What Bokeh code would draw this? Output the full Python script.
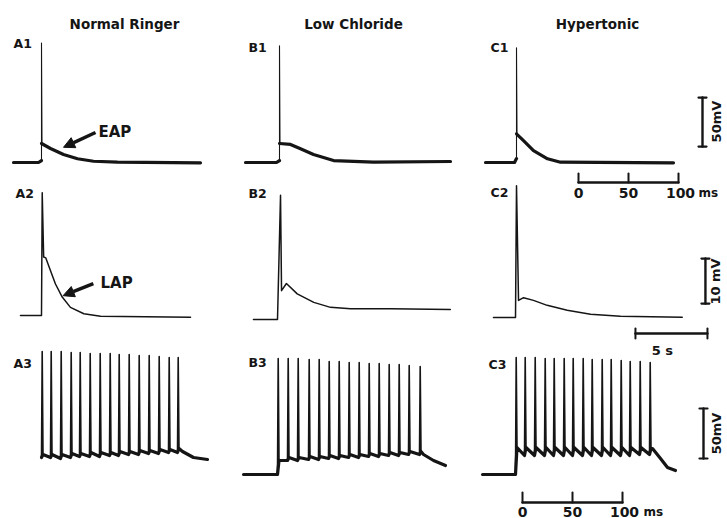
import math
from bokeh.plotting import figure
from bokeh.models import Range1d, Label, Arrow, NormalHead
from bokeh.embed import file_html
from bokeh.resources import INLINE

W, H = 727, 518
INK = "#151515"
FONT = "DejaVu Sans"

# ---------------- text ----------------
COLUMN_TITLES = ["Normal Ringer", "Low Chloride", "Hypertonic"]
PANEL_NAMES = ["A1", "B1", "C1", "A2", "B2", "C2", "A3", "B3", "C3"]

# ---------------- row 1: single stimulus, fast sweep (ms, mV above rest) ----------------
A1_pre_t = [-28, -3, 0]
A1_pre_v = [0, 0, 2]
A1_peak = 122
A1_decay_t = [0, 9, 22, 36, 52, 76, 159]
A1_decay_v = [19.4, 14.3, 8.2, 3.8, 1.3, 0.3, -0.3]

B1_pre_t = [-34, -3, 0]
B1_pre_v = [0, 0, 2]
B1_peak = 119
B1_decay_t = [0, 11, 21, 34, 54, 94, 171]
B1_decay_v = [19.4, 18.4, 14.0, 8.2, 2.0, 0.3, 1.0]

C1_pre_t = [-31, -2, 0]
C1_pre_v = [0, 0, 4]
C1_peak = 117
C1_decay_t = [0, 7, 17, 31, 44, 157]
C1_decay_v = [29.3, 22.4, 12.2, 3.8, 0.3, -0.3]

# ---------------- row 2: single stimulus, slow sweep (s, mV above rest) ----------------
A2_t = [-1.46, 0, 0.05, 0.15, 0.30, 0.62, 0.97, 1.44, 2.01, 2.94, 4.10, 10.35]
A2_v = [0, 0, 27.3, 13.0, 12.8, 10.0, 7.0, 4.1, 1.8, 0.4, -0.15, -0.4]
B2_t = [-1.67, 0, 0.21, 0.28, 0.62, 1.37, 2.52, 3.68, 5.07, 7.85, 12.0]
B2_v = [0, 0, 27.6, 6.4, 8.0, 5.7, 3.8, 2.7, 2.4, 2.4, 2.2]
C2_t = [-1.53, 0, 0.07, 0.21, 0.56, 1.25, 2.20, 3.59, 5.21, 7.29, 11.58]
C2_v = [0, 0, 29.3, 3.8, 4.4, 3.8, 2.7, 1.6, 0.7, 0.3, 0.07]

# ---------------- row 3: spike trains (ms, mV above rest) ----------------
A3_spike_t = [0, 9, 19, 29, 38, 48, 58, 68, 77, 87, 97, 107, 117, 127, 136]
A3_peak = [123, 123, 123, 122, 122, 121, 121, 121, 120, 120, 119, 119, 118, 117, 117]
A3_base = [17, 17, 16, 17, 18, 18, 18, 19, 19, 20, 20, 21, 21, 22, 22]
A3_after = [20, 20, 20, 21, 21, 22, 22, 22, 23, 23, 24, 24, 25, 25, 26]
A3_pre_t = []
A3_pre_v = []
A3_tail_t = [141, 152, 166]
A3_tail_v = [23, 17, 15]

B3_spike_t = [0, 10, 20, 31, 41, 51, 61, 71, 81, 91, 101, 111, 121, 131, 142]
B3_peak = [116, 116, 116, 115, 115, 113, 113, 112, 112, 111, 111, 110, 110, 109, 108]
B3_base = [0, 14, 14, 15, 15, 16, 16, 17, 17, 18, 18, 19, 19, 20, 20]
B3_after = [14, 17, 17, 18, 18, 19, 19, 20, 20, 21, 21, 22, 22, 23, 23]
B3_pre_t = [-34, -1]
B3_pre_v = [0, 0]
B3_tail_t = [146, 156, 168]
B3_tail_v = [20, 14, 9]

C3_spike_t = [0, 9, 19, 29, 38, 48, 57, 67, 76, 86, 95, 105, 114, 124, 134]
C3_peak = [117, 117, 117, 116, 116, 116, 116, 116, 115, 115, 115, 114, 113, 113, 112]
C3_base = [0, 19, 19, 19, 19, 19, 19, 19, 19, 19, 19, 19, 19, 20, 20]
C3_after = [27, 27, 27, 27, 27, 27, 27, 27, 27, 27, 27, 27, 27, 27, 26]
C3_pre_t = [-33, -1]
C3_pre_v = [0, 0]
C3_tail_t = [137, 145, 152, 160]
C3_tail_v = [26, 16, 7, 4]

# ---------------- scale bars ----------------
BAR_FAST_MS = [0, 50, 100]
BAR_FAST_LABELS = ["0", "50", "100"]
BAR_MV_BIG = 50
BAR_MV_SMALL = 10
BAR_SLOW_S = 5

# ---------------- layout (pixel position of t=0/rest, px per unit) ----------------
GEOM = {
    "A1": (41, 162, 1.0, 0.98), "B1": (279, 162, 1.0, 0.98), "C1": (516, 162, 1.0, 0.98),
    "A2": (41, 315, 14.4, 4.5), "B2": (277, 319, 14.4, 4.5), "C2": (515, 317, 14.4, 4.5),
    "A3": (41, 474, 1.0, 1.0), "B3": (277, 474, 1.0, 1.0), "C3": (515, 474, 1.0, 1.0),
}

p = figure(width=W, height=H, x_range=Range1d(0, W), y_range=Range1d(0, H),
           x_axis_type=None, y_axis_type=None, toolbar_location=None,
           output_backend="svg", min_border=0, outline_line_color=None,
           background_fill_color="white", border_fill_color="white")

xr, yr = {}, {}
for k, (x0, y0, sx, sy) in GEOM.items():
    xr[k] = Range1d(-x0 / sx, (W - x0) / sx)
    yr[k] = Range1d(-(H - y0) / sy, y0 / sy)
p.extra_x_ranges = xr
p.extra_y_ranges = yr


def line(k, xs, ys, w):
    if len(xs) == 0:
        return
    p.line(list(xs), list(ys), x_range_name=k, y_range_name=k, line_color=INK,
           line_width=w, line_join="round", line_cap="round")


def text(k, x, y, s, size, align="center", angle=0.0, bold=True, baseline="middle"):
    if k is None:
        kw = dict(x_units="screen", y_units="screen")
        y = H - y
    else:
        kw = dict(x_range_name=k, y_range_name=k)
    p.add_layout(Label(x=x, y=y, text=s, text_font=FONT, text_font_size=f"{size}px",
                       text_font_style="bold" if bold else "normal", text_color=INK,
                       text_align=align, text_baseline=baseline, angle=angle, **kw))


# ---- row 1 ----
for k, pt, pv, pk, dt, dv in [("A1", A1_pre_t, A1_pre_v, A1_peak, A1_decay_t, A1_decay_v),
                              ("B1", B1_pre_t, B1_pre_v, B1_peak, B1_decay_t, B1_decay_v),
                              ("C1", C1_pre_t, C1_pre_v, C1_peak, C1_decay_t, C1_decay_v)]:
    line(k, pt, pv, 3.2)
    line(k, [0, 0, 0.5], [pv[-1], pk, dv[0]], 1.1)
    line(k, dt, dv, 3.2)

# ---- row 2 ----
for k, t, v in [("A2", A2_t, A2_v), ("B2", B2_t, B2_v), ("C2", C2_t, C2_v)]:
    line(k, t, v, 1.5)

# ---- row 3 ----
for k, st, pk, bs, af, pt, pv, tt, tv in [
        ("A3", A3_spike_t, A3_peak, A3_base, A3_after, A3_pre_t, A3_pre_v, A3_tail_t, A3_tail_v),
        ("B3", B3_spike_t, B3_peak, B3_base, B3_after, B3_pre_t, B3_pre_v, B3_tail_t, B3_tail_v),
        ("C3", C3_spike_t, C3_peak, C3_base, C3_after, C3_pre_t, C3_pre_v, C3_tail_t, C3_tail_v)]:
    line(k, pt, pv, 3.0)
    xs, ys, bx, by = [], [], [], []
    for t, a, b, c in zip(st, pk, bs, af):
        xs += [t, t + 0.7, t + 1.5]
        ys += [b, a, c]
        bx += [t, t + 1.5]
        by += [b, c]
    xs += tt; ys += tv
    bx += tt; by += tv
    line(k, xs, ys, 1.6)
    line(k, bx, by, 3.2)


# ---- scale bars ----
def vbar(k, t, v0, length, cap_px=4):
    x0, y0, sx, sy = GEOM[k]
    c = cap_px / sx
    line(k, [t, t], [v0, v0 + length], 2.4)
    line(k, [t - c, t + c], [v0, v0], 2.2)
    line(k, [t - c, t + c], [v0 + length, v0 + length], 2.2)


def hbar(k, t0, ticks, v, tick_px, labels=None, label_v=None, unit=None, unit_t=None, down=False):
    x0, y0, sx, sy = GEOM[k]
    line(k, [t0 + ticks[0], t0 + ticks[-1]], [v, v], 2.4)
    d = tick_px / sy
    for tk in ticks:
        if down:
            line(k, [t0 + tk, t0 + tk], [v - d, v + d], 2.0)
        else:
            line(k, [t0 + tk, t0 + tk], [v, v + d], 2.0)
    if labels:
        for tk, lb in zip(ticks, labels):
            text(k, t0 + tk + (2 if lb == "100" else 0), label_v, lb, 14)
    if unit:
        text(k, unit_t, label_v, unit, 12, align="left", bold=True)


vbar("C1", 186, 16.3, BAR_MV_BIG)
text("C1", 200, 41.8, f"{BAR_MV_BIG}mV", 13, angle=math.pi / 2)
hbar("C1", 62, BAR_FAST_MS, -20.4, 9, BAR_FAST_LABELS, -31.6, "ms", 182)

vbar("C2", 13.19, 3.1, BAR_MV_SMALL)
text("C2", 13.9, 8.0, f"{BAR_MV_SMALL} mV", 13, angle=math.pi / 2)
hbar("C2", 8.33, [0, BAR_SLOW_S], -3.56, 5, down=True)
text("C2", 10.2, -7.4, f"{BAR_SLOW_S} s", 13)

vbar("C3", 188, 16, BAR_MV_BIG)
text("C3", 201, 41, f"{BAR_MV_BIG}mV", 13, angle=math.pi / 2)
hbar("C3", 7, BAR_FAST_MS, -28, 10, BAR_FAST_LABELS, -37.0, "ms", 128)

# ---- annotations ----
text("A1", 57, 31.1, "EAP", 15, align="left")
p.add_layout(Arrow(end=NormalHead(size=11, fill_color=INK, line_color=INK),
                   x_start=54, y_start=30.6, x_end=22, y_end=15.5,
                   line_color=INK, line_width=3.5, x_range_name="A1", y_range_name="A1"))
text("A2", 4.1, 7.3, "LAP", 15, align="left")
p.add_layout(Arrow(end=NormalHead(size=11, fill_color=INK, line_color=INK),
                   x_start=3.6, y_start=7.1, x_end=1.5, y_end=4.4,
                   line_color=INK, line_width=3.5, x_range_name="A2", y_range_name="A2"))

# ---- titles and panel names (screen positions) ----
for s, cx in zip(COLUMN_TITLES, [124, 353, 597]):
    text(None, cx, 23, s, 13.5)
for s, (lx, ly) in zip(PANEL_NAMES, [(13, 43), (248, 47), (490, 47),
                                     (15, 193), (248, 193), (490, 192),
                                     (13, 363), (248, 362), (488, 364)]):
    text(None, lx, ly, s, 12.5, align="left")

open("out.html", "w").write(file_html(p, INLINE))
